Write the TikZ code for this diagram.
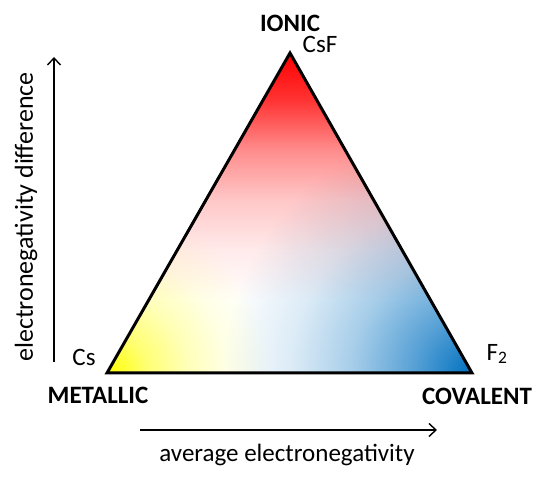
\documentclass[tikz,border=0pt]{standalone}
\usepackage{fontspec}
\setmainfont{Carlito}
\usetikzlibrary{arrows.meta}

\definecolor{ionred}{RGB}{255,0,0}
\definecolor{covblue}{RGB}{0,112,192}
\definecolor{metyellow}{RGB}{255,255,0}

\pgfdeclareverticalshading{ionglow}{400pt}{color(0pt)=(white); color(50pt)=(ionred!8); color(100pt)=(ionred!22); color(150pt)=(ionred!45); color(200pt)=(ionred!80); color(247pt)=(ionred)}
\pgfdeclareradialshading{covglow}{\pgfpointorigin}{color(0pt)=(covblue); color(60pt)=(covblue!65); color(120pt)=(covblue!35); color(180pt)=(covblue!14); color(250pt)=(white)}
\pgfdeclareradialshading{metglow}{\pgfpointorigin}{color(0pt)=(metyellow); color(40pt)=(metyellow!55); color(80pt)=(metyellow!28); color(120pt)=(metyellow!10); color(165pt)=(white)}

\begin{document}
\begin{tikzpicture}[x=1pt,y=1pt,font=\fontsize{25}{30}\selectfont,
  corner/.style={font=\fontsize{25}{30}\selectfont\bfseries},
  glow/.style={inner sep=0pt, outer sep=0pt},
  axis/.style={line width=1.4pt,-{Straight Barb[length=7pt,width=13pt]}}]

\useasboundingbox (0,0) rectangle (550,484);

%Triangolo
\coordinate (ionic) at (290,431);
\coordinate (metallic) at (107,111);
\coordinate (covalent) at (472,111);

\begin{scope}
\clip (ionic) -- (metallic) -- (covalent) -- cycle;
\fill[white] (ionic) -- (metallic) -- (covalent) -- cycle;
\begin{scope}[blend mode=multiply]
\node[glow, anchor=south] (redglow) at (290,184) {\pgfuseshading{ionglow}};
\node[glow] (blueglow) at (covalent) {\pgfuseshading{covglow}};
\node[glow] (yellowglow) at (metallic) {\pgfuseshading{metglow}};
\end{scope}
\end{scope}

\draw[line width=3pt, line join=miter] (ionic) -- (metallic) -- (covalent) -- cycle;

%Vertici
\node[corner] (ionlbl) at (290,461) {IONIC};
\node (csf) at (320,440) {CsF};
\node (cs) at (84,127) {Cs};
\node (ftwo) at (497,130) {F\textsubscript{2}};
\node[corner] (metlbl) at (98,89) {METALLIC};
\node[corner] (covlbl) at (477,88) {COVALENT};

%Assi
\coordinate (diffbot) at (54,122);
\coordinate (difftop) at (54,427);
\draw[axis] (diffbot) -- (difftop);
\node[rotate=90, font=\fontsize{26}{30}\selectfont] (difflbl) at (26,267) {electronegativity difference};

\coordinate (avgleft) at (140,54);
\coordinate (avgright) at (437,54);
\draw[axis] (avgleft) -- (avgright);
\node (avglbl) at (287,29) {average electronegativity};

\end{tikzpicture}
\end{document}
